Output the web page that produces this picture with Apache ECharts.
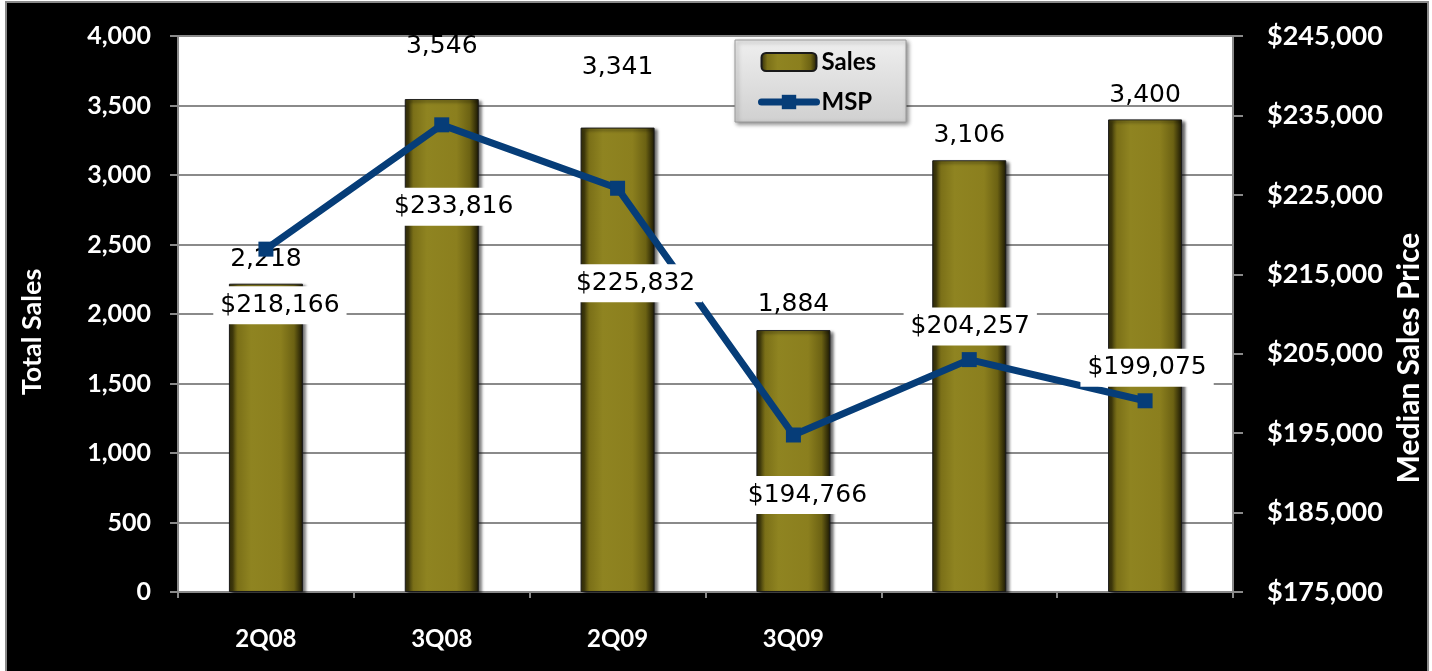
<!DOCTYPE html>
<html>
<head>
<meta charset="utf-8">
<script src="https://cdn.jsdelivr.net/npm/echarts@6/dist/echarts.min.js"></script>
<style>
  html, body { margin: 0; padding: 0; background: #fff; }
  #frame { position: absolute; left: 5px; top: 1px; width: 1424px; height: 672px; background: #000; border: 2px solid #8a8a8a; border-bottom: none; box-sizing: border-box; }
  #chart { position: absolute; left: 0; top: 0; width: 1432px; height: 671px; }
</style>
</head>
<body>
<div id="frame"></div>
<div id="chart"></div>
<script>
const categories = ['2Q08', '3Q08', '2Q09', '3Q09', '', ''];
const salesValues = [2218, 3546, 3341, 1884, 3106, 3400];
const mspValues = [218166, 233816, 225832, 194766, 204257, 199075];
const leftTicks = [0, 500, 1000, 1500, 2000, 2500, 3000, 3500, 4000];
const rightTicks = [175000, 185000, 195000, 205000, 215000, 225000, 235000, 245000];

const fmt = v => Number(v).toLocaleString('en-US');
const axisGray = '#8a8a8a';
const labelFont = 'DejaVu Sans';
const boldFont = 'Lato';
const lineBlue = '#063d78';

// label placement tweaks (styles only)
const salesLabelDistance = [12, 40, 48, 13, 12, 11];
const mspLabelOffset = [[14, 56], [12, 82], [18, 95], [14, 60], [1, -33], [2, -33]];

const chart = echarts.init(document.getElementById('chart'), null, { renderer: 'canvas' });

const barGradient = new echarts.graphic.LinearGradient(0, 0, 1, 0, [
  { offset: 0, color: '#2a2607' },
  { offset: 0.12, color: '#7b7018' },
  { offset: 0.3, color: '#8f8421' },
  { offset: 0.7, color: '#8b7f1e' },
  { offset: 0.88, color: '#6c6213' },
  { offset: 1, color: '#1a1704' }
]);

const option = {
  backgroundColor: 'transparent',
  animation: false,
  grid: {
    left: 178, top: 36, right: 199, bottom: 79,
    show: true, backgroundColor: '#fff', borderWidth: 0
  },
  legend: {
    data: [
      { name: 'Sales' },
      { name: 'MSP', lineStyle: { width: 7, cap: 'round' } }
    ],
    orient: 'vertical',
    left: 735, top: 40,
    itemWidth: 55, itemHeight: 18, itemGap: 16,
    padding: [10, 30, 8, 23],
    backgroundColor: new echarts.graphic.LinearGradient(0, 0, 0, 1, [
      { offset: 0, color: '#efefef' },
      { offset: 1, color: '#d0d0d0' }
    ]),
    borderColor: '#9a9a9a', borderWidth: 1,
    shadowColor: 'rgba(0,0,0,0.45)', shadowBlur: 4, shadowOffsetX: 2, shadowOffsetY: 2,
    textStyle: { fontFamily: boldFont, fontWeight: 'bold', fontSize: 24, color: '#000' }
  },
  xAxis: {
    type: 'category',
    data: categories,
    axisLine: { lineStyle: { color: axisGray, width: 2 } },
    axisTick: { show: true, length: 6, lineStyle: { color: axisGray, width: 2 } },
    axisLabel: { color: '#fff', fontFamily: boldFont, fontWeight: 'bold', fontSize: 24, margin: 35 },
    splitLine: { show: false }
  },
  yAxis: [
    {
      type: 'value', min: leftTicks[0], max: leftTicks[leftTicks.length - 1], interval: 500,
      position: 'left',
      axisLine: { show: true, lineStyle: { color: axisGray, width: 2 } },
      axisTick: { show: true, length: 8, lineStyle: { color: axisGray, width: 2 } },
      axisLabel: { color: '#fff', fontFamily: boldFont, fontWeight: 'bold', fontSize: 25, margin: 27, formatter: v => fmt(v) },
      splitLine: { show: true, lineStyle: { color: axisGray, width: 2 } }
    },
    {
      type: 'value', min: rightTicks[0], max: rightTicks[rightTicks.length - 1], interval: 10000,
      position: 'right',
      axisLine: { show: true, lineStyle: { color: axisGray, width: 2 } },
      axisTick: { show: true, length: 10, lineStyle: { color: axisGray, width: 2 } },
      axisLabel: { color: '#fff', fontFamily: boldFont, fontWeight: 'bold', fontSize: 27, margin: 34, formatter: v => '$' + fmt(v) },
      splitLine: { show: false }
    }
  ],
  graphic: [
    {
      type: 'text', x: 32, y: 332, rotation: Math.PI / 2,
      style: { text: 'Total Sales', fill: '#fff', font: 'bold 27px Lato', align: 'center', verticalAlign: 'middle' }
    },
    {
      type: 'text', x: 1409, y: 358, rotation: Math.PI / 2,
      style: { text: 'Median Sales Price', fill: '#fff', font: 'bold 30px Lato', align: 'center', verticalAlign: 'middle' }
    }
  ],
  series: [
    {
      name: 'Sales',
      type: 'bar',
      yAxisIndex: 0,
      barWidth: 74,
      z: 2,
      itemStyle: {
        color: barGradient,
        borderColor: '#1a1a1a', borderWidth: 1,
        shadowColor: 'rgba(0,0,0,0.65)', shadowBlur: 3, shadowOffsetX: 3, shadowOffsetY: 2
      },
      label: {
        show: true, position: 'top', color: '#000',
        fontFamily: labelFont, fontSize: 25, formatter: p => fmt(p.value)
      },
      data: salesValues.map((v, i) => ({ value: v, label: { distance: salesLabelDistance[i] } }))
    },
    {
      name: 'MSP',
      type: 'line',
      yAxisIndex: 1,
      z: 5,
      symbol: 'rect', symbolSize: 15,
      lineStyle: { color: lineBlue, width: 7 },
      itemStyle: { color: lineBlue },
      label: {
        show: true, position: 'inside', align: 'center', verticalAlign: 'middle',
        color: '#000', fontFamily: labelFont, fontSize: 25,
        backgroundColor: '#fff', padding: [7, 7, 6, 7],
        formatter: p => '$' + fmt(p.value)
      },
      data: mspValues.map((v, i) => ({ value: v, label: { offset: mspLabelOffset[i] } }))
    }
  ]
};

chart.setOption(option);
</script>
</body>
</html>
